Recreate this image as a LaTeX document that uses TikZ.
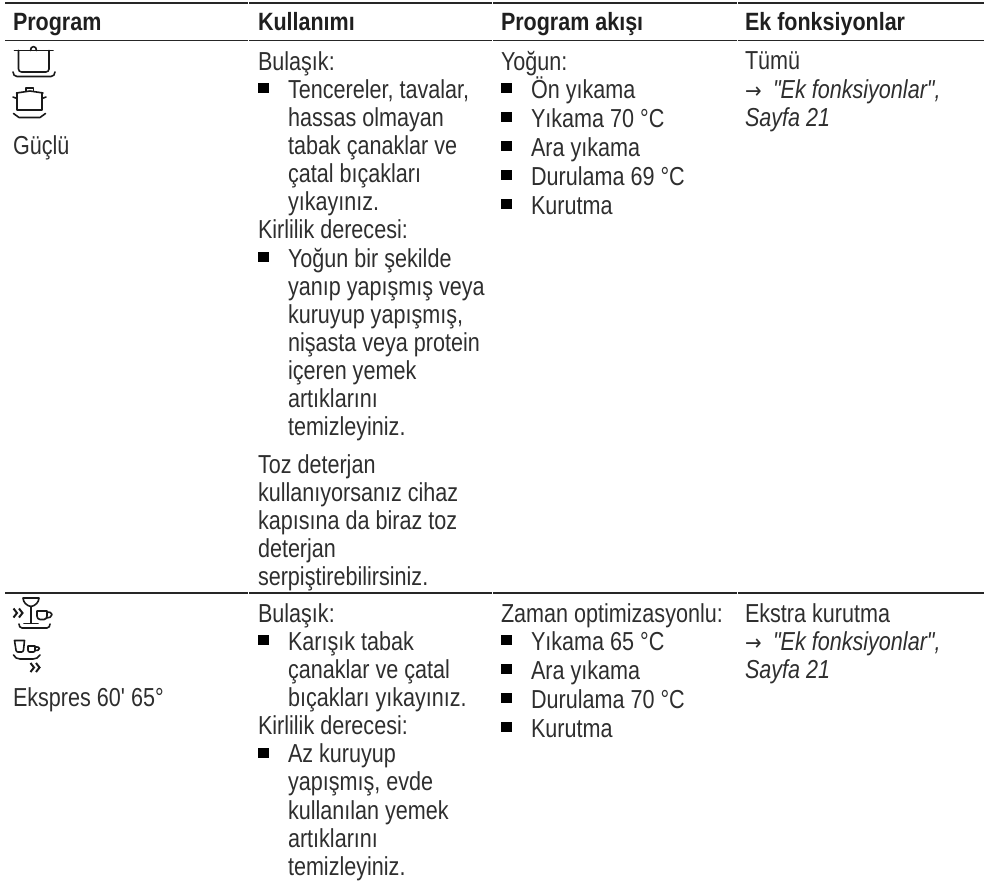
\documentclass[tikz,border=0pt]{standalone}
\usepackage{fontspec}
\newfontfamily\bodyfont[FakeStretch=0.83]{Liberation Sans}
\newfontfamily\headfont[FakeStretch=0.86]{Liberation Sans}
\newfontfamily\arrowfont[FakeStretch=0.9]{DejaVu Sans}
\newcommand{\bl}[1]{\makebox[30pt][l]{\textcolor{black}{\raisebox{5pt}{\rule{10.5pt}{10pt}}}}#1}
\newcommand{\cl}[1]{\hspace*{30pt}#1}
\newcommand{\st}{\rule{0pt}{20pt}}
\newcommand{\ar}{\makebox[28pt][l]{\arrowfont\fontsize{22}{22}\selectfont →}}
\tikzset{
 x=1pt,y=-1pt,
 cell/.style={anchor=north west,inner sep=0pt,outer sep=0pt,align=left,text=black!82,
   font=\bodyfont\fontsize{26}{28.15}\selectfont},
 head/.style={anchor=base west,inner sep=0pt,outer sep=0pt,text=black!88,
   font=\headfont\bfseries\fontsize{25}{28}\selectfont},
 rulea/.style={draw=black!85,line width=1.7pt},
 icon/.style={draw=black!90,line width=1.6pt,line cap=round,line join=round,fill=none},
 chev/.style={icon,line width=2pt,line cap=butt,line join=miter},
}
\begin{document}
\begin{tikzpicture}
\useasboundingbox (0,0) rectangle (984,880);
% rules
\foreach \y in {3,40.5,593}{
 \draw[rulea] (5,\y) -- (248,\y);
 \draw[rulea] (249,\y) -- (492,\y);
 \draw[rulea] (493,\y) -- (736.5,\y);
 \draw[rulea] (737.5,\y) -- (984,\y);
}
% header
\node[head] (h1) at (13,31) {Program};
\node[head] (h2) at (258,31) {Kullanımı};
\node[head] (h3) at (501,31) {Program akışı};
\node[head] (h4) at (745,31) {Ek fonksiyonlar};
% row 1
\node[cell] (a1) at (13,134) {\st Güçlü};
\node[cell] (b1) at (258,50) {\st Bulaşık:\\
\bl{Tencereler, tavalar,}\\
\cl{hassas olmayan}\\
\cl{tabak çanaklar ve}\\
\cl{çatal bıçakları}\\
\cl{yıkayınız.}\\
Kirlilik derecesi:\\
\bl{Yoğun bir şekilde}\\
\cl{yanıp yapışmış veya}\\
\cl{kuruyup yapışmış,}\\
\cl{nişasta veya protein}\\
\cl{içeren yemek}\\
\cl{artıklarını}\\
\cl{temizleyiniz.}\\[9pt]
Toz deterjan\\
kullanıyorsanız cihaz\\
kapısına da biraz toz\\
deterjan\\
serpiştirebilirsiniz.};
\node[cell] (c1) at (501,50) {\st Yoğun:\\
\bl{Ön yıkama}\\[0.9pt]
\bl{Yıkama 70 °C}\\[0.9pt]
\bl{Ara yıkama}\\[0.9pt]
\bl{Durulama 69 °C}\\[0.9pt]
\bl{Kurutma}};
\node[cell] (d1) at (745,50) {\st Tümü\\
\ar\itshape "Ek fonksiyonlar",\\
\itshape Sayfa 21};
% row 2
\node[cell] (a2) at (13,686) {\st Ekspres 60' 65°};
\node[cell] (b2) at (258,602) {\st Bulaşık:\\
\bl{Karışık tabak}\\
\cl{çanaklar ve çatal}\\
\cl{bıçakları yıkayınız.}\\
Kirlilik derecesi:\\
\bl{Az kuruyup}\\
\cl{yapışmış, evde}\\
\cl{kullanılan yemek}\\
\cl{artıklarını}\\
\cl{temizleyiniz.}};
\node[cell] (c2) at (501,602) {\st Zaman optimizasyonlu:\\
\bl{Yıkama 65 °C}\\[0.9pt]
\bl{Ara yıkama}\\[0.9pt]
\bl{Durulama 70 °C}\\[0.9pt]
\bl{Kurutma}};
\node[cell] (d2) at (745,602) {\st Ekstra kurutma\\
\ar\itshape "Ek fonksiyonlar",\\
\itshape Sayfa 21};
% pot icon 1
\draw[icon] (14.5,50.5) -- (53,50.5);
\draw[icon] (18.5,50.5) -- (18.5,69) to[out=-90,in=180] (21.5,72) -- (46,72) to[out=0,in=-90] (49,69) -- (49,50.5);
\draw[icon] (30.5,50.5) to[out=90,in=180] (33.5,46.5) to[out=0,in=90] (36.5,50.5);
\draw[icon] (13,72) to[out=-90,in=180] (17,76.5) -- (51,76.5) to[out=0,in=-90] (55,72);
% pot icon 2
\draw[icon] (16.5,93) -- (30,91) -- (43,93);
\draw[icon] (26,91) -- (26,88) -- (33.5,88) -- (33.5,91);
\draw[icon] (17,93) -- (17,110) -- (42,110) -- (42,93);
\draw[icon] (13,97) -- (17,98.5);
\draw[icon] (42,98.5) -- (46,97);
\draw[icon] (13.5,113.5) -- (19,117.5) -- (40,117.5) -- (45.5,113.5);
% glass + cup icon
\draw[icon] (23,598) -- (39,598) to[out=-95,in=10] (31,606.5) to[out=170,in=-85] (23,598);
\draw[icon] (31,606.5) -- (31,623);
\draw[icon] (24,623.5) -- (38,623.5);
\draw[icon] (37,611) -- (47,611) -- (47,616) to[out=-90,in=0] (44,619.5) -- (40,619.5) to[out=180,in=-90] (37,616) -- cycle;
\draw[icon] (47,612) to[out=0,in=90] (52,614.5) to[out=-90,in=0] (46.5,618);
\draw[chev] (13.5,608.5) -- (17,613) -- (13.5,617.5);
\draw[chev] (19,608.5) -- (22.5,613) -- (19,617.5);
\draw[icon] (19,624) to[out=-90,in=180] (22,628) -- (47,628) to[out=0,in=-90] (50,624);
% lower glass + cup icon
\draw[icon] (14.5,640.5) -- (24.5,640.5) -- (23.5,650) to[out=-90,in=0] (21.5,652) -- (18,652) to[out=180,in=-90] (16,650) -- cycle;
\draw[icon] (28,646) -- (35,646) -- (35,650) to[out=-90,in=0] (33.5,652) -- (29.5,652) to[out=180,in=-90] (28,650) -- cycle;
\draw[icon] (35,647) to[out=0,in=90] (39.5,648.5) to[out=-90,in=0] (35,650.5);
\draw[icon] (13.5,655) to[out=-60,in=180] (20,659) -- (33,659) to[out=0,in=-120] (40,655);
\draw[chev] (30.5,663) -- (34,667.5) -- (30.5,672);
\draw[chev] (36,663) -- (39.5,667.5) -- (36,672);
\end{tikzpicture}
\end{document}
